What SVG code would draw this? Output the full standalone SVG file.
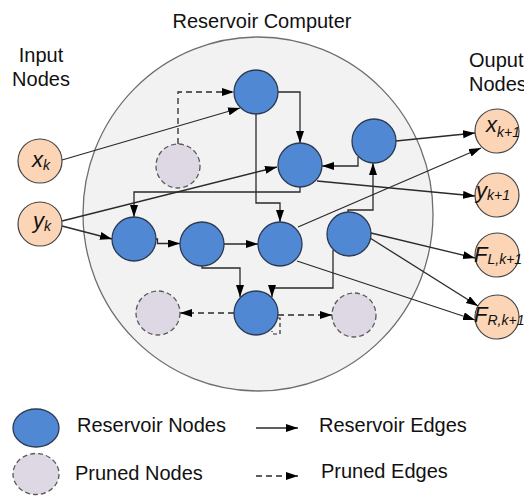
<svg xmlns="http://www.w3.org/2000/svg" width="524" height="500" viewBox="0 0 524 500">
  <defs>
    <marker id="arrow" markerUnits="userSpaceOnUse" markerWidth="13" markerHeight="9" refX="12" refY="4" orient="auto">
      <path d="M0,0 L12,4 L0,8 z" fill="#000"/>
    </marker>
    <style>
      text { font-family: "Liberation Sans", Arial, sans-serif; fill: #111; }
      .title { font-size: 20px; }
      .lbl { font-size: 22px; font-style: italic; }
      .sub { font-size: 14px; font-style: italic; }
      .res { fill: #5088d3; stroke: #2c3a52; stroke-width: 1.3; }
      .pruned { fill: #ddd8e4; stroke: #5a5a5a; stroke-width: 1.3; stroke-dasharray: 5 3; }
      .io { fill: #fbd5b6; stroke: #444; stroke-width: 1.2; }
      .edge { fill: none; stroke: #2a2a2a; stroke-width: 1.3; marker-end: url(#arrow); }
      .dash { fill: none; stroke: #2a2a2a; stroke-width: 1.3; stroke-dasharray: 6 4; marker-end: url(#arrow); }
      .dash-plain { fill: none; stroke: #2a2a2a; stroke-width: 1.2; stroke-dasharray: 4 3; }
    </style>
  </defs>

  <rect width="524" height="500" fill="#fff"/>

  <!-- reservoir boundary -->
  <ellipse cx="258" cy="214" rx="175" ry="177" fill="#f2f2f2" stroke="#6e6e6e" stroke-width="1.3"/>

  <!-- headings -->
  <text class="title" x="262" y="28" text-anchor="middle">Reservoir Computer</text>
  <text class="title" x="41" y="62" text-anchor="middle">Input</text>
  <text class="title" x="41" y="86" text-anchor="middle">Nodes</text>
  <text class="title" x="469" y="67">Ouput</text>
  <text class="title" x="469" y="91">Nodes</text>

  <!-- connectors -->
  <g id="edges">
    <path class="edge" d="M62,160 L240,108"/>
    <path class="edge" d="M62,221 L277,167"/>
    <path class="edge" d="M62,226 L112,239"/>
    <path class="dash" d="M178,144 V92 H234"/>
    <path class="edge" d="M278,92 H300 V143"/>
    <path class="edge" d="M358,157 V166 H322"/>
    <path class="edge" d="M300,187 V192 H134 V217"/>
    <path class="edge" d="M256,114 V203 H280 V222"/>
    <path class="edge" d="M348,212 V210 H373 V163"/>
    <path class="edge" d="M156,239 H157.5 V243.5 H180"/>
    <path class="edge" d="M224,244 H258"/>
    <path class="edge" d="M202,266 V268 H240 V297"/>
    <path class="edge" d="M333,250 V288 H272 V297"/>
    <path class="dash" d="M234,313 H180"/>
    <path class="dash" d="M278,315 H332"/>
    <path class="dash-plain" d="M278,318 H280 V334 H272 V331"/>
    <path class="edge" d="M298,227 L481,148"/>
    <path class="edge" d="M396,141 L475,133"/>
    <path class="edge" d="M317,181 L475,196"/>
    <path class="edge" d="M371,233 L475,258"/>
    <path class="edge" d="M370,238 L478,306"/>
    <path class="edge" d="M297,261 L475,320"/>
  </g>

  <!-- input nodes -->
  <g id="in-xk"><circle class="io" cx="40" cy="161" r="22"/><text class="lbl" x="32" y="167">x<tspan class="sub" dy="3">k</tspan></text></g>
  <g id="in-yk"><circle class="io" cx="40" cy="224" r="22"/><text class="lbl" x="33" y="228">y<tspan class="sub" dy="3">k</tspan></text></g>

  <!-- reservoir nodes -->
  <g id="nA"><circle class="res" cx="256" cy="92" r="22"/></g>
  <g id="nB"><circle class="res" cx="300" cy="165" r="22"/></g>
  <g id="nC"><circle class="res" cx="374" cy="141" r="22"/></g>
  <g id="nD"><circle class="res" cx="134" cy="239" r="22"/></g>
  <g id="nE"><circle class="res" cx="202" cy="244" r="22"/></g>
  <g id="nF"><circle class="res" cx="280" cy="244" r="22"/></g>
  <g id="nG"><circle class="res" cx="349" cy="234" r="22"/></g>
  <g id="nH"><circle class="res" cx="256" cy="313" r="22"/></g>

  <!-- pruned nodes -->
  <g id="p1"><circle class="pruned" cx="178" cy="166" r="22"/></g>
  <g id="p2"><circle class="pruned" cx="158" cy="313" r="22"/></g>
  <g id="p3"><circle class="pruned" cx="354" cy="315" r="22"/></g>

  <!-- output nodes -->
  <g id="out-x"><circle class="io" cx="497" cy="131" r="22"/><text class="lbl" x="486" y="132">x<tspan class="sub" dy="5">k+1</tspan></text></g>
  <g id="out-y"><circle class="io" cx="497" cy="195" r="22"/><text class="lbl" x="476" y="198">y<tspan class="sub" dy="2">k+1</tspan></text></g>
  <g id="out-fl"><circle class="io" cx="497" cy="255" r="22"/><text class="lbl" x="474" y="262">F<tspan class="sub" dy="2">L,k+1</tspan></text></g>
  <g id="out-fr"><circle class="io" cx="497" cy="317" r="22"/><text class="lbl" x="474" y="322">F<tspan class="sub" dy="3">R,k+1</tspan></text></g>

  <!-- legend -->
  <g id="legend">
    <ellipse class="res" cx="36" cy="428" rx="23" ry="19"/>
    <text class="title" x="77" y="432">Reservoir Nodes</text>
    <ellipse class="pruned" cx="36" cy="474" rx="23" ry="20.5"/>
    <text class="title" x="75" y="480">Pruned Nodes</text>
    <path class="edge" d="M256,428 H298"/>
    <text class="title" x="319" y="432">Reservoir Edges</text>
    <path class="dash" d="M256,476 H298" stroke-dasharray="5 4"/>
    <text class="title" x="321" y="478">Pruned Edges</text>
  </g>
</svg>
